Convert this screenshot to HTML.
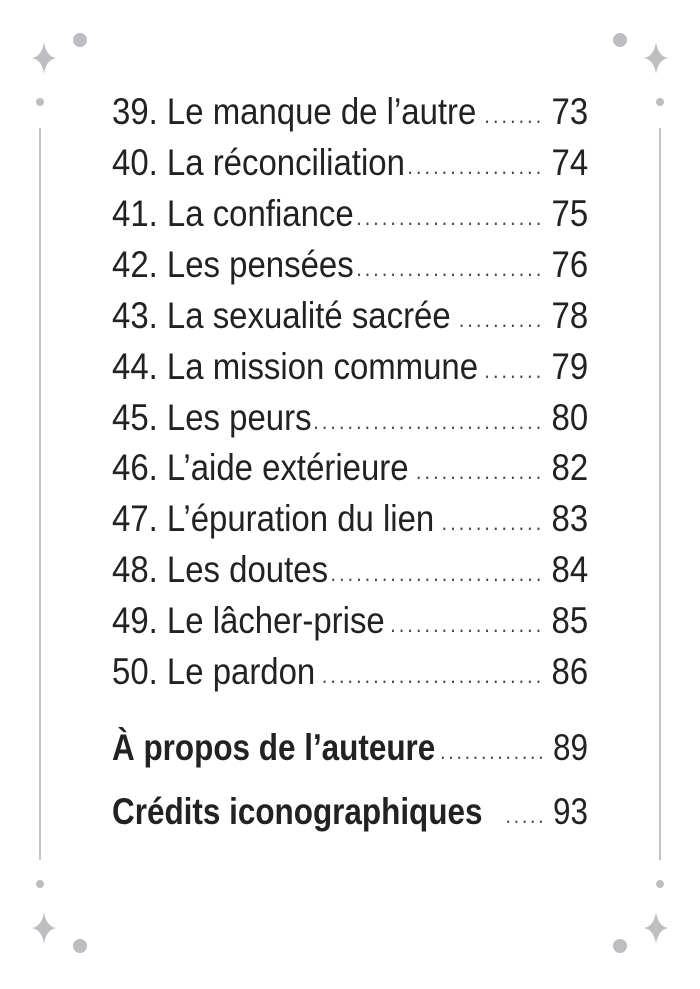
<!DOCTYPE html>
<html><head><meta charset="utf-8"><style>
body{margin:0;background:#fff;}
.page{position:relative;width:700px;height:989px;overflow:hidden;background:#fff;font-family:"Liberation Sans",sans-serif;color:#222;}
.ln{position:absolute;left:112px;width:535px;height:44px;transform:scaleX(0.89);transform-origin:left center;display:flex;align-items:center;font-size:37px;line-height:44px;white-space:nowrap;}
.ln .t{flex:0 0 auto;}
.ln .d{flex:1 1 auto;overflow:hidden;direction:rtl;letter-spacing:3.5px;font-size:22px;margin:8px 8px 0 4px;color:#444;}
.ln .n{flex:0 0 auto;}
.b{font-weight:bold;transform:scaleX(0.85);width:560px;}
.dec{position:absolute;background:#bdbdc2;border-radius:50%;}
.vl{position:absolute;width:2px;background:#c4c4c8;top:128px;height:732px;}
</style></head><body><div class="page">
<div class="dec" style="left:73px;top:33px;width:14px;height:14px"></div>
<div class="dec" style="left:613px;top:33px;width:14px;height:14px"></div>
<div class="dec" style="left:36px;top:98px;width:8px;height:8px"></div>
<div class="dec" style="left:656px;top:98px;width:8px;height:8px"></div>
<div class="dec" style="left:36px;top:880px;width:8px;height:8px"></div>
<div class="dec" style="left:656px;top:880px;width:8px;height:8px"></div>
<div class="dec" style="left:73px;top:939px;width:14px;height:14px"></div>
<div class="dec" style="left:613px;top:939px;width:14px;height:14px"></div>
<div class="vl" style="left:39px"></div>
<div class="vl" style="left:659px"></div>
<svg style="position:absolute;left:0;top:0" width="700" height="989">
<g fill="#bdbdc2">
<path d="M44 42 Q46 56 56 58 Q46 60 44 74 Q42 60 32 58 Q42 56 44 42Z"/>
<path d="M656 42 Q658 56 668 58 Q658 60 656 74 Q654 60 644 58 Q654 56 656 42Z"/>
<path d="M44 912 Q46 926 56 928 Q46 930 44 944 Q42 930 32 928 Q42 926 44 912Z"/>
<path d="M656 912 Q658 926 668 928 Q658 930 656 944 Q654 930 644 928 Q654 926 656 912Z"/>
</g></svg>
<div class="ln" style="top:90px"><span class="t">39. Le manque de l’autre</span><span class="d">..............................................................</span><span class="n">73</span></div>
<div class="ln" style="top:141px"><span class="t">40. La réconciliation</span><span class="d">..............................................................</span><span class="n">74</span></div>
<div class="ln" style="top:192px"><span class="t">41. La confiance</span><span class="d">..............................................................</span><span class="n">75</span></div>
<div class="ln" style="top:243px"><span class="t">42. Les pensées</span><span class="d">..............................................................</span><span class="n">76</span></div>
<div class="ln" style="top:294px"><span class="t">43. La sexualité sacrée</span><span class="d">..............................................................</span><span class="n">78</span></div>
<div class="ln" style="top:345px"><span class="t">44. La mission commune</span><span class="d">..............................................................</span><span class="n">79</span></div>
<div class="ln" style="top:396px"><span class="t">45. Les peurs</span><span class="d">..............................................................</span><span class="n">80</span></div>
<div class="ln" style="top:446px"><span class="t">46. L’aide extérieure</span><span class="d">..............................................................</span><span class="n">82</span></div>
<div class="ln" style="top:497px"><span class="t">47. L’épuration du lien</span><span class="d">..............................................................</span><span class="n">83</span></div>
<div class="ln" style="top:548px"><span class="t">48. Les doutes</span><span class="d">..............................................................</span><span class="n">84</span></div>
<div class="ln" style="top:599px"><span class="t">49. Le lâcher-prise</span><span class="d">..............................................................</span><span class="n">85</span></div>
<div class="ln" style="top:650px"><span class="t">50. Le pardon</span><span class="d">..............................................................</span><span class="n">86</span></div>
<div class="ln b" style="top:726px"><span class="t">À propos de l’auteure</span><span class="d" style="font-weight:normal">..............................................................</span><span class="n" style="font-weight:normal">89</span></div>
<div class="ln b" style="top:790px"><span class="t">Crédits iconographiques</span><span class="d" style="font-weight:normal;flex:0 0 50px;margin-left:auto">..........</span><span class="n" style="font-weight:normal">93</span></div>
</div></body></html>
